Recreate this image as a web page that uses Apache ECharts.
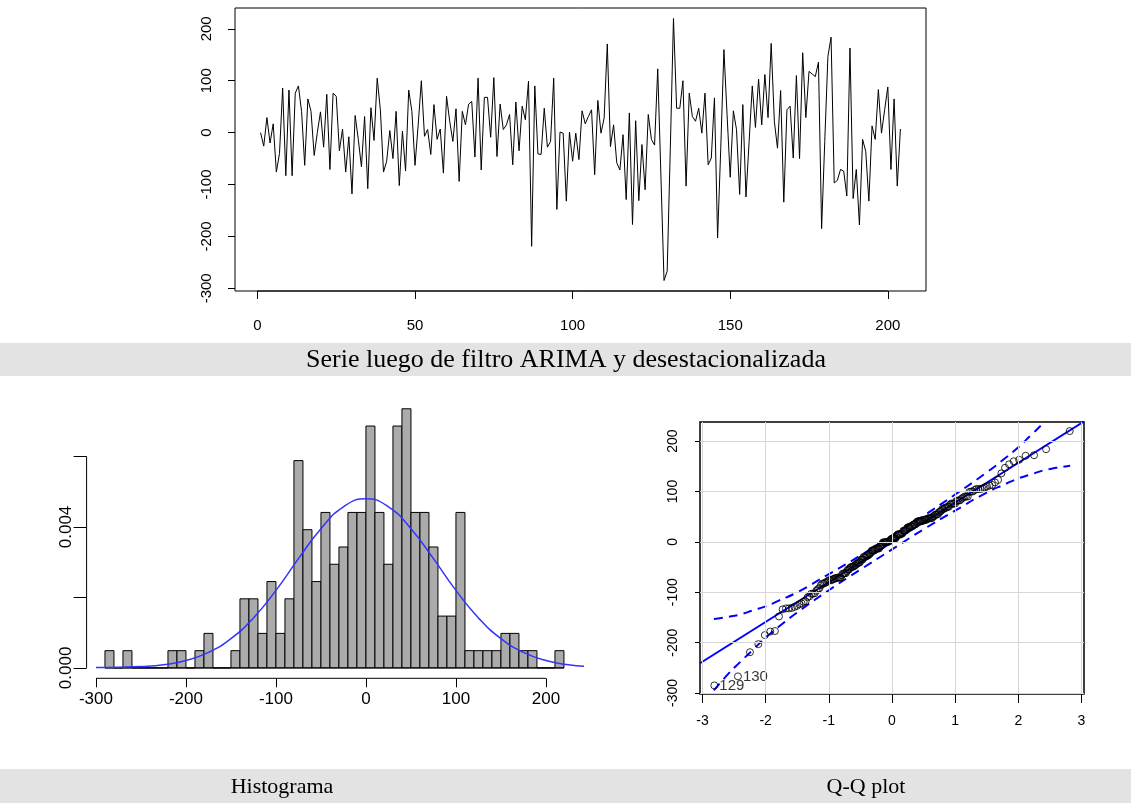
<!DOCTYPE html>
<html><head><meta charset="utf-8">
<script src="https://cdn.jsdelivr.net/npm/echarts@6/dist/echarts.min.js"></script>
<style>html,body{margin:0;padding:0;background:#fff}#c{width:1131px;height:803px}</style>
</head><body><div id="c"></div>
<script>
// ---- Data ----
const seriesValues = [
  0, -26, 29, -20, 17, -76, -40, 86, -83, 82,
  -83, 76, 90, 41, -63, 65, 41, -44, 0, 40,
  -28, 74, -71, 76, 70, -35, 7, -76, -8, -118,
  33, -13, -66, 31, -108, 48, -15, 105, 44, -76,
  -55, 4, -50, 41, -102, 3, -74, 82, 41, -63,
  15, 100, -7, 6, -42, 54, -13, 7, -78, 70,
  22, -17, 46, -94, 41, 15, 55, 60, -47, 105,
  -72, 68, 68, -9, 106, -46, 55, 6, 15, 35,
  -62, 59, -35, 51, 25, 99, -219, 90, -41, -42,
  47, -28, -17, 105, -148, 1, -1, -132, 1, -55,
  -1, -52, 42, 17, 31, 44, -81, 62, -1, 28,
  171, -27, 15, -58, -72, -4, -129, 38, -177, 23,
  -131, -23, -110, 35, -13, -24, 123, -80, -285, -267,
  -30, 220, 47, 47, 100, -103, 76, 31, 22, 47,
  -1, 76, -62, -49, 67, -203, -30, 160, 35, -86,
  42, 6, -119, 54, -124, -17, 90, 10, 103, 15,
  112, 29, 172, 22, -30, 81, -134, 44, 51, -49,
  110, -50, 154, 29, 118, 113, 108, 136, -185, -17,
  147, 184, -97, -92, -71, -74, -122, 163, -127, -71,
  -178, -13, -36, -132, 13, -13, 83, -1, 44, 88,
  -71, 65, -103, 7
];
const topXTicks = [0, 50, 100, 150, 200];
const topYTicks = [-300, -200, -100, 0, 100, 200];

// histogram: bins of width 10 starting at these left edges, with counts
const histBinStarts = [-290,-280,-270,-260,-250,-240,-230,-220,-210,-200,-190,-180,-170,-160,-150,-140,-130,-120,-110,-100,
  -90,-80,-70,-60,-50,-40,-30,-20,-10,0,10,20,30,40,50,60,70,80,90,100,110,120,130,140,150,160,170,180,190,200,210];
const histCounts = [1,0,1,0,0,0,0,1,1,0,1,2,0,0,1,4,4,2,5,2,
  4,12,8,5,9,6,7,9,9,14,9,6,14,15,9,9,7,3,3,9,1,1,1,1,2,2,1,1,0,0,1];
const histXTicks = [-300, -200, -100, 0, 100, 200];
const histYTicks = [0, 0.002, 0.004, 0.006];
const histYLabels = [0, 0.004];
// normal density overlay
const normX = [-300,-275,-250,-225,-200,-175,-150,-125,-100,-75,-50,-25,0,25,50,75,100,125,150,175,200,225,250];
const normY = [0.00001,0.00002,0.00004,0.00009,0.00021,0.00044,0.00083,0.00142,0.0022,0.0031,0.00395,0.00457,0.0048,
  0.00457,0.00395,0.0031,0.0022,0.00142,0.00083,0.00044,0.00021,0.00009,0.00004];

// Q-Q plot
const qqXTicks = [-3, -2, -1, 0, 1, 2, 3];
const qqYTicks = [-300, -200, -100, 0, 100, 200];
const qqLineX = [-3.04, 3.04];
const qqLineY = [-241, 239];
const envX = [-2.82,-2.6,-2.4,-2.2,-2.0,-1.8,-1.5,-1.0,-0.5,0,0.5,1.0,1.5,1.8,2.0,2.2,2.4,2.6,2.82];
const envUpper = [-153,-149,-144,-136,-128,-117,-100,-64,-27,13,52,94,138,167,188,212,236,261,293];
const envLower = [-295,-263,-238,-214,-190,-169,-140,-96,-55,-15,25,62,98,115,126,134,142,147,151];
const labeledIdx = [129, 130];

// ---- helpers ----
function qnorm(p){
  const a=[-3.969683028665376e+01,2.209460984245205e+02,-2.759285104469687e+02,1.383577518672690e+02,-3.066479806614716e+01,2.506628277459239e+00];
  const b=[-5.447609879822406e+01,1.615858368580409e+02,-1.556989798598866e+02,6.680131188771972e+01,-1.328068155288572e+01];
  const c=[-7.784894002430293e-03,-3.223964580411365e-01,-2.400758277161838e+00,-2.549732539343734e+00,4.374664141464968e+00,2.938163982698783e+00];
  const d=[7.784695709041462e-03,3.224671290700398e-01,2.445134137142996e+00,3.754408661907416e+00];
  const pl=0.02425, ph=1-pl; let q, r;
  if (p < pl){ q=Math.sqrt(-2*Math.log(p)); return (((((c[0]*q+c[1])*q+c[2])*q+c[3])*q+c[4])*q+c[5])/((((d[0]*q+d[1])*q+d[2])*q+d[3])*q+1); }
  if (p <= ph){ q=p-0.5; r=q*q; return (((((a[0]*r+a[1])*r+a[2])*r+a[3])*r+a[4])*r+a[5])*q/(((((b[0]*r+b[1])*r+b[2])*r+b[3])*r+b[4])*r+1); }
  q=Math.sqrt(-2*Math.log(1-p)); return -(((((c[0]*q+c[1])*q+c[2])*q+c[3])*q+c[4])*q+c[5])/((((d[0]*q+d[1])*q+d[2])*q+d[3])*q+1);
}

const N = seriesValues.length;
const lineData = seriesValues.map((v, i) => [i + 1, v]);
const histData = histBinStarts.map((s, i) => [s, s + 10, histCounts[i] / (N * 10)]);
const normData = normX.map((x, i) => [x, normY[i]]);
const sorted = seriesValues.map((v, i) => ({v, idx: i + 1})).sort((a, b) => a.v - b.v);
const qqData = sorted.map((o, i) => {
  const item = {value: [qnorm((i + 1 - 0.5) / N), o.v]};
  if (labeledIdx.indexOf(o.idx) >= 0) {
    item.label = {show: true, formatter: String(o.idx), position: 'right', distance: 1,
      color: '#000', fontSize: 15, fontFamily: 'Liberation Sans'};
  }
  return item;
});

const FONT = 'Liberation Sans';
const HX0 = -310.4, HX1 = 240.4, HY0 = -0.000294, HY1 = 0.00765;
const noLine = {show: false, onZero: false};

const chart = echarts.init(document.getElementById('c'), null, {renderer: 'canvas'});
chart.setOption({
  animation: false,
  backgroundColor: '#fff',
  grid: [
    {left: 235, top: 8, width: 691, height: 283, show: true, borderColor: '#000', borderWidth: 1, backgroundColor: 'transparent'},
    {left: 86.6, top: 398.3, width: 495.7, height: 280, show: false},
    {left: 700, top: 422, width: 384, height: 272, show: true, borderColor: '#000', borderWidth: 1.5, backgroundColor: 'transparent'}
  ],
  xAxis: [
    {gridIndex: 0, type: 'value', min: -7.12, max: 212.12, splitLine: {show: false},
      axisLine: noLine, axisTick: {show: true, length: 8, customValues: topXTicks, lineStyle: {color: '#000'}},
      axisLabel: {customValues: topXTicks, color: '#000', fontSize: 15, fontFamily: FONT, margin: 27}},
    {gridIndex: 1, type: 'value', min: HX0, max: HX1, splitLine: {show: false},
      axisLine: noLine, axisTick: {show: true, length: 9, customValues: histXTicks, lineStyle: {color: '#000'}},
      axisLabel: {customValues: histXTicks, color: '#000', fontSize: 17, fontFamily: FONT, margin: 13}},
    {gridIndex: 2, type: 'value', min: -3.04, max: 3.04, splitLine: {show: false},
      axisLine: noLine, axisTick: {show: true, length: 9, customValues: qqXTicks, lineStyle: {color: '#000'}},
      axisLabel: {customValues: qqXTicks, color: '#000', fontSize: 14, fontFamily: FONT, margin: 20}}
  ],
  yAxis: [
    {gridIndex: 0, type: 'value', min: -305.2, max: 240.2, splitLine: {show: false},
      axisLine: noLine, axisTick: {show: true, length: 7, customValues: topYTicks, lineStyle: {color: '#000'}},
      axisLabel: {customValues: topYTicks, rotate: 90, color: '#000', fontSize: 15, fontFamily: FONT, margin: 21}},
    {gridIndex: 1, type: 'value', min: HY0, max: HY1, splitLine: {show: false},
      axisLine: noLine, axisTick: {show: true, length: 13, customValues: histYTicks, lineStyle: {color: '#000'}},
      axisLabel: {customValues: histYLabels, rotate: 90, color: '#000', fontSize: 17, fontFamily: FONT, margin: 12,
        formatter: v => Number(v).toFixed(3)}},
    {gridIndex: 2, type: 'value', min: -302, max: 238, splitLine: {show: false},
      axisLine: noLine, axisTick: {show: true, length: 5, customValues: qqYTicks, lineStyle: {color: '#000'}},
      axisLabel: {customValues: qqYTicks, rotate: 90, color: '#000', fontSize: 14, fontFamily: FONT, margin: 20}}
  ],
  series: [
    {type: 'line', xAxisIndex: 0, yAxisIndex: 0, data: lineData, symbol: 'none',
      lineStyle: {color: '#000', width: 1}, silent: true},
    {type: 'line', xAxisIndex: 0, yAxisIndex: 0, data: [[topXTicks[0], -305.2], [topXTicks[topXTicks.length-1], -305.2]],
      symbol: 'none', clip: false, lineStyle: {color: '#000', width: 1}, silent: true},
    {type: 'custom', xAxisIndex: 1, yAxisIndex: 1, data: histData, encode: {x: [0, 1], y: 2}, silent: true,
      renderItem: function (params, api) {
        const p0 = api.coord([api.value(0), api.value(2)]);
        const p1 = api.coord([api.value(1), 0]);
        return {type: 'rect', shape: {x: p0[0], y: p0[1], width: p1[0] - p0[0], height: p1[1] - p0[1]},
          style: {fill: '#ababab', stroke: '#000', lineWidth: 1}};
      }},
    {type: 'line', xAxisIndex: 1, yAxisIndex: 1, data: [[histBinStarts[0], 0], [histBinStarts[histBinStarts.length-1] + 10, 0]],
      symbol: 'none', lineStyle: {color: '#000', width: 1}, silent: true},
    {type: 'line', xAxisIndex: 1, yAxisIndex: 1, data: normData, symbol: 'none', smooth: true,
      lineStyle: {color: '#3333ff', width: 1.5}, silent: true, z: 5},
    {type: 'line', xAxisIndex: 1, yAxisIndex: 1, data: [[histXTicks[0], HY0], [histXTicks[histXTicks.length-1], HY0]],
      symbol: 'none', clip: false, lineStyle: {color: '#000', width: 1}, silent: true},
    {type: 'line', xAxisIndex: 1, yAxisIndex: 1, data: [[HX0, histYTicks[0]], [HX0, histYTicks[histYTicks.length-1]]],
      symbol: 'none', clip: false, lineStyle: {color: '#000', width: 1}, silent: true},
    {type: 'scatter', xAxisIndex: 2, yAxisIndex: 2, data: [], z: 1, silent: true,
      markLine: {silent: true, symbol: 'none', label: {show: false},
        lineStyle: {color: '#d6d6d6', type: 'solid', width: 1},
        data: qqXTicks.map(v => ({xAxis: v})).concat(qqYTicks.map(v => ({yAxis: v})))}},
    {type: 'line', xAxisIndex: 2, yAxisIndex: 2, data: envX.map((x, i) => [x, envUpper[i]]), symbol: 'none', smooth: true,
      lineStyle: {color: '#0000ff', width: 2, type: [9, 6]}, silent: true, z: 3},
    {type: 'line', xAxisIndex: 2, yAxisIndex: 2, data: envX.map((x, i) => [x, envLower[i]]), symbol: 'none', smooth: true,
      lineStyle: {color: '#0000ff', width: 2, type: [9, 6]}, silent: true, z: 3},
    {type: 'line', xAxisIndex: 2, yAxisIndex: 2, data: qqLineX.map((x, i) => [x, qqLineY[i]]), symbol: 'none',
      lineStyle: {color: '#0000ff', width: 2}, silent: true, z: 3},
    {type: 'scatter', xAxisIndex: 2, yAxisIndex: 2, data: qqData, symbol: 'circle', symbolSize: 7,
      itemStyle: {color: 'rgba(0,0,0,0)', borderColor: '#000', borderWidth: 1}, silent: true, z: 4}
  ],
  graphic: [
    {type: 'rect', shape: {x: 0, y: 343, width: 1131, height: 33}, style: {fill: '#e3e3e3'}, silent: true, z: -10},
    {type: 'text', x: 566, y: 360, style: {text: 'Serie luego de filtro ARIMA y desestacionalizada', fill: '#000',
      font: '26px "Liberation Serif"', textAlign: 'center', textVerticalAlign: 'middle'}},
    {type: 'rect', shape: {x: 0, y: 769, width: 1131, height: 34}, style: {fill: '#e3e3e3'}, silent: true, z: -10},
    {type: 'text', x: 282, y: 787, style: {text: 'Histograma', fill: '#000', font: '22px "Liberation Serif"',
      textAlign: 'center', textVerticalAlign: 'middle'}},
    {type: 'text', x: 866, y: 787, style: {text: 'Q-Q plot', fill: '#000', font: '22px "Liberation Serif"',
      textAlign: 'center', textVerticalAlign: 'middle'}}
  ]
});
</script></body></html>
